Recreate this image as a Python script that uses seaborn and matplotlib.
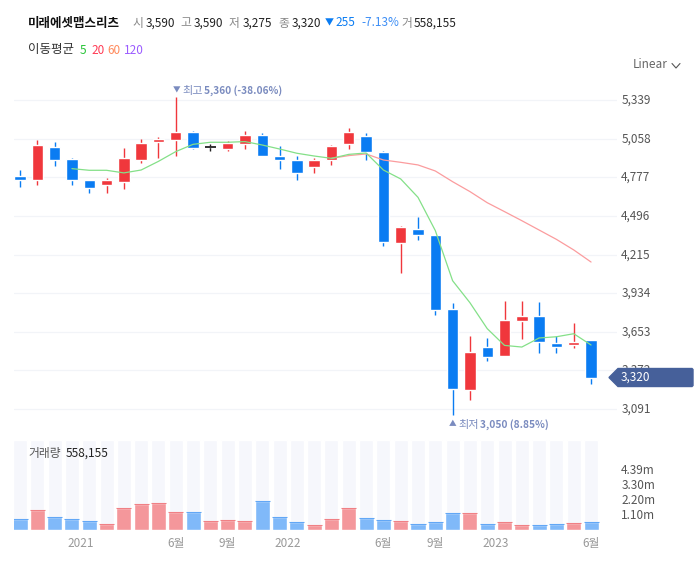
import numpy as np
import matplotlib.pyplot as plt
import matplotlib.transforms as mtrans
import seaborn as sns

# monthly candles
opens = [4788, 4759, 4999, 4911, 4759, 4722, 4744, 4904, 5035, 5050, 5108, 4998,
         4984, 5021, 5086, 4933, 4904, 4853, 4904, 5021, 5079, 4962, 4302, 4402,
         4358, 3819, 3229, 3542, 3477, 3732, 3768, 3571, 3557, 3590]
closes = [4759, 5013, 4904, 4759, 4700, 4759, 4919, 5028, 5057, 5108, 4992, 4998,
          5028, 5086, 4933, 4904, 4810, 4904, 5006, 5108, 4962, 4309, 4416, 4358,
          3812, 3236, 3506, 3469, 3739, 3768, 3579, 3542, 3579, 3320]
highs = [4831, 5050, 5033, 4919, 4759, 4773, 4989, 5055, 5072, 5360, 5115, 5018,
         5043, 5115, 5101, 5004, 4933, 4919, 5013, 5137, 5101, 4970, 4424, 4489,
         4358, 3865, 3625, 3608, 3880, 3880, 3870, 3622, 3717, 3590]
lows = [4708, 4722, 4860, 4722, 4661, 4666, 4691, 4885, 4916, 4933, 4982, 4967,
        4967, 4982, 4931, 4836, 4761, 4807, 4870, 4984, 4902, 4278, 4079, 4322,
        3778, 3050, 3156, 3440, 3477, 3600, 3499, 3499, 3535, 3275]
volumes = [0.807, 1.467, 0.953, 0.807, 0.66, 0.44, 1.613, 1.907, 1.98, 1.32, 1.32, 0.66,
           0.733, 0.66, 2.127, 0.953, 0.587, 0.367, 0.807, 1.613, 0.88, 0.733, 0.66, 0.44,
           0.587, 1.247, 1.247, 0.44, 0.587, 0.367, 0.367, 0.44, 0.513, 0.558]
volume_up = [0, 1, 0, 0, 0, 1, 1, 1, 1, 1, 0, 1, 1, 1, 0, 0, 0, 1, 1, 1, 0, 0, 1, 0,
             0, 0, 1, 0, 1, 1, 0, 0, 1, 0]

ma5_start = 3
ma5 = [4841, 4829, 4829, 4810, 4831, 4894, 4965, 5018, 5033, 5033, 5038, 5013, 4984,
       4953, 4933, 4916, 4945, 4955, 4831, 4766, 4632, 4390, 4025, 3865, 3676, 3554,
       3542, 3608, 3617, 3639, 3557]
ma20_start = 18
ma20 = [4916, 4936, 4948, 4904, 4887, 4868, 4824, 4746, 4674, 4593, 4528, 4462, 4394,
        4326, 4249, 4161]

price_ticks = [5339, 5058, 4777, 4496, 4215, 3934, 3653, 3372, 3091]
volume_ticks = [1.10, 2.20, 3.30, 4.39]
volume_tick_labels = ['1.10m', '2.20m', '3.30m', '4.39m']
date_ticks = [3.5, 9, 12, 15.5, 21, 24, 27.5, 33]
date_labels = ['2021', '6월', '9월', '2022', '6월', '9월', '2023', '6월']

UP = '#f0373c'
DOWN = '#0a7cf2'
W, H = 698, 573

sns.set_theme(style='white')
plt.rcParams['font.family'] = ['Noto Sans CJK KR', 'DejaVu Sans']

fig = plt.figure(figsize=(W / 100, H / 100), dpi=100)


def pixel_axes(left, top, right, bottom):
    return fig.add_axes([left / W, 1 - bottom / H, (right - left) / W, (bottom - top) / H])


ax = pixel_axes(14, 85, 617, 430)
ax_vol = pixel_axes(14, 440, 617, 530)
overlay = fig.add_axes([0, 0, 1, 1])
overlay.set_xlim(0, W)
overlay.set_ylim(H, 0)
overlay.axis('off')

idx = np.arange(len(opens))
o, c = np.array(opens), np.array(closes)
colors = ['#222222' if a == b else (UP if b > a else DOWN) for a, b in zip(o, c)]

# candles
ax.vlines(idx, lows, highs, colors=colors, lw=1.0, zorder=2)
ax.bar(idx, np.abs(c - o), bottom=np.minimum(o, c), width=0.66, color=colors, zorder=3)
for i in idx[o == c]:
    ax.hlines(o[i], i - 0.33, i + 0.33, color='#222222', lw=1.3, zorder=3)

# moving averages
sns.lineplot(x=idx[ma20_start:], y=ma20, ax=ax, color='#fb9c9e', lw=0.9, zorder=4)
sns.lineplot(x=idx[ma5_start:], y=ma5, ax=ax, color='#84e088', lw=0.9, zorder=5)

ax.set_xlim(-0.347, 34.5)
ax.set_ylim(2938, 5450)
ax.set_yticks(price_ticks)
ax.set_yticklabels([f'{v:,}' for v in price_ticks])
ax.yaxis.tick_right()
ax.tick_params(axis='y', length=0, pad=3, labelsize=8.5, labelcolor='#555555')
ax.set_xticks([])
ax.grid(axis='y', color='#f2f4f8', lw=0.9)
ax.set_axisbelow(True)
sns.despine(ax=ax, left=True, bottom=True, right=True, top=True)

# volume panel
vol_top = 6.6
sns.barplot(x=idx, y=np.full(len(idx), vol_top), native_scale=True, ax=ax_vol,
            color='#f6f7fc', saturation=1, width=0.81, zorder=1)
sns.barplot(x=idx, y=volumes, hue=volume_up, native_scale=True, ax=ax_vol, dodge=False,
            palette={0: '#80b9f9', 1: '#f4979b'}, saturation=1, width=0.87,
            legend=False, zorder=2)
ax_vol.hlines(volumes, idx - 0.435, idx + 0.435, lw=0.8, zorder=3,
              colors=['#f08085' if u else '#62a7f6' for u in volume_up])
ax_vol.set_xlim(-0.347, 34.5)
ax_vol.set_ylim(0, vol_top)
ax_vol.set_xlabel('')
ax_vol.set_ylabel('')
ax_vol.set_yticks(volume_ticks)
ax_vol.set_yticklabels(volume_tick_labels)
ax_vol.yaxis.tick_right()
ax_vol.set_xticks(date_ticks)
ax_vol.set_xticklabels(date_labels)
ax_vol.tick_params(axis='y', length=0, pad=3, labelsize=8.5, labelcolor='#555555')
ax_vol.tick_params(axis='x', length=0, pad=5, labelsize=8.5, labelcolor='#999999')
sns.despine(ax=ax_vol, left=True, bottom=True, right=True, top=True)

# nudge the y labels up a little, this font sits low
nudge = mtrans.ScaledTranslation(0, 1.3 / 100, fig.dpi_scale_trans)
for label in ax.get_yticklabels() + ax_vol.get_yticklabels():
    label.set_transform(label.get_transform() + nudge)


def put(x, y, s, color='#333333', size=8.5, **kw):
    overlay.text(x, y, s, color=color, fontsize=size, va='center', ha=kw.pop('ha', 'left'), **kw)


# header line
put(28, 23.5, '미래에셋맵스리츠', color='#111111', size=9, fontweight='bold')
for x, s in [(132, '시'), (180, '고'), (229, '저'), (278, '종'), (401, '거')]:
    put(x, 23, s, color='#888888')
for x, s in [(146, '3,590'), (194, '3,590'), (243, '3,275'), (292, '3,320'), (414, '558,155')]:
    put(x, 23, s, color='#222222')
put(325, 23, '▼', color=DOWN, size=6.5)
put(335, 23, '255', color=DOWN)
put(361, 23, '-7.13%', color='#3d8ef5')

# moving average legend
put(28, 50, '이동평균', size=9)
for x, s, col in [(80, '5', '#27c437'), (91, '20', '#ff3b55'), (107, '60', '#ff8a5c'),
                  (124, '120', '#9b5cff')]:
    put(x, 50, s, color=col)

put(633, 64, 'Linear', color='#666666')
overlay.plot([672, 676, 680], [63.5, 68, 63.5], color='#555555', lw=0.8)

# high / low labels
put(173, 90.5, '▼', color='#7a8bbf', size=5.5)
put(182, 91, '최고', color='#7a8bbf', size=8)
put(204, 91, '5,360 (-38.06%)', color='#7a8bbf', size=7.3, fontweight='bold')
put(449, 424.5, '▲', color='#7a8bbf', size=5.5)
put(458, 425, '최저', color='#7a8bbf', size=8)
put(480, 425, '3,050 (8.85%)', color='#7a8bbf', size=7.3, fontweight='bold')

put(28, 453, '거래량', color='#555555')
put(66, 453, '558,155', color='#222222')

# last price tag
tag_y = 100.3 + (5339 - closes[-1]) * 0.1373
overlay.fill([609, 618, 692, 693, 693, 692, 618],
             [tag_y, tag_y - 9, tag_y - 9, tag_y - 8, tag_y + 8, tag_y + 9, tag_y + 9],
             color='#46609a', zorder=5)
put(621, tag_y, f'{closes[-1]:,}', color='white', zorder=6)

fig.savefig('out.png', dpi=100)
